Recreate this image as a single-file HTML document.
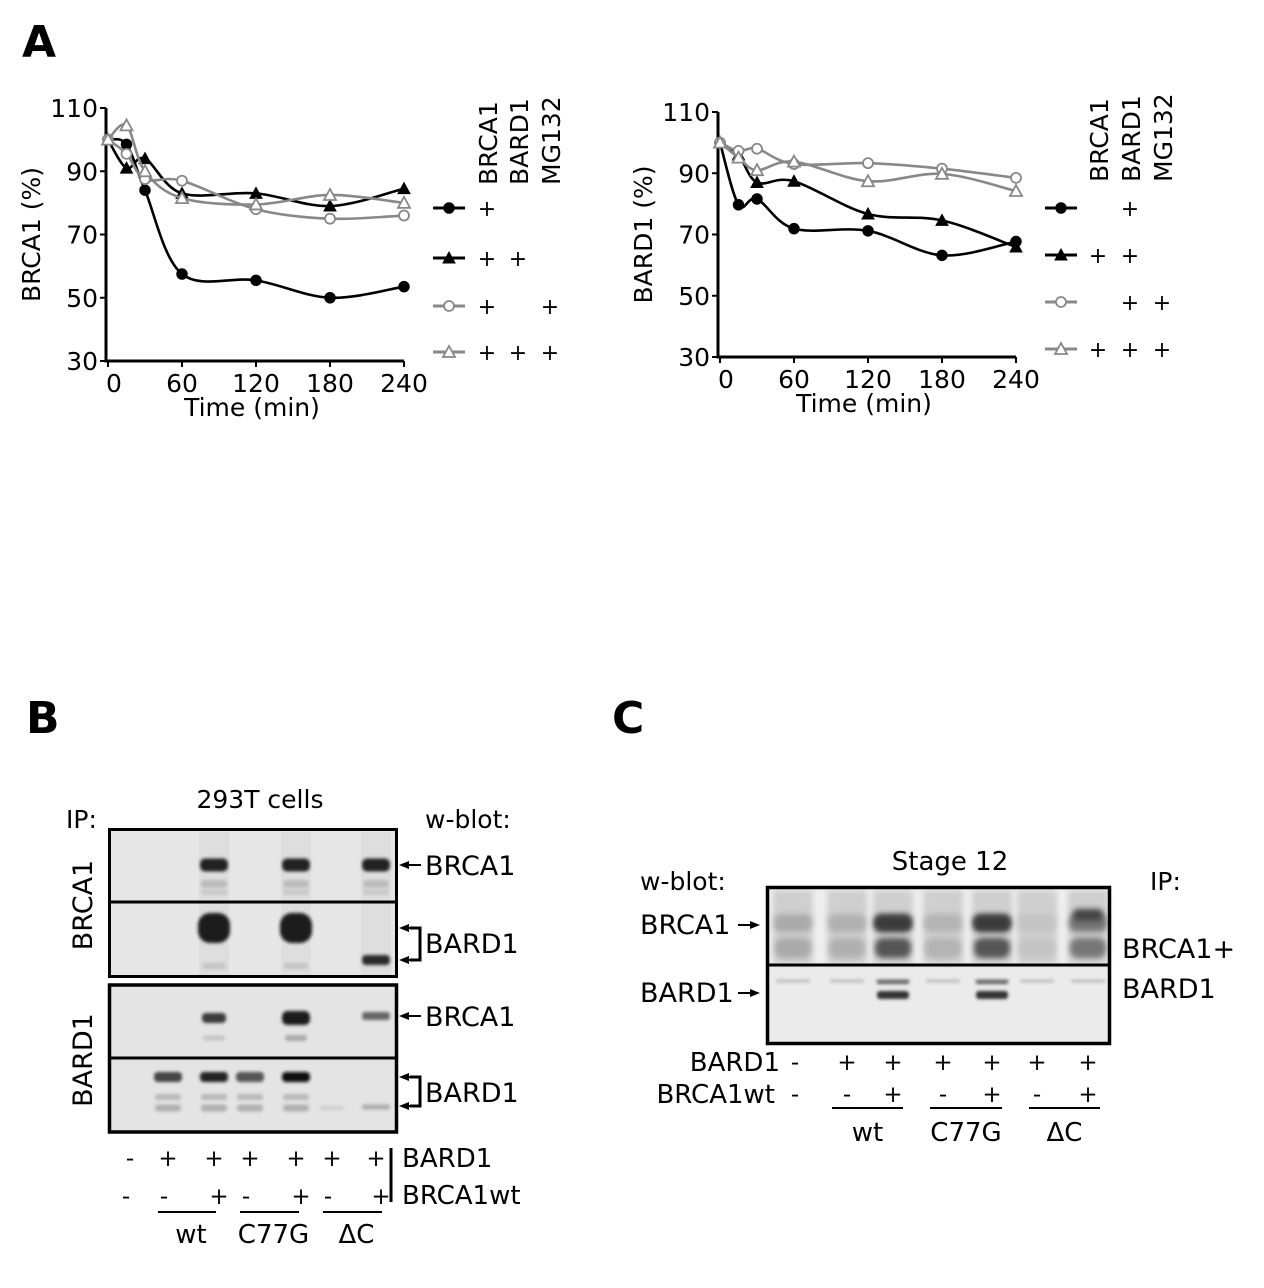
<!DOCTYPE html>
<html><head><meta charset="utf-8"><style>
html,body{margin:0;padding:0;background:#fff;}
svg{display:block;}
text{font-family:"DejaVu Sans","Liberation Sans",sans-serif;fill:#000;}
</style></head><body>
<svg id="fig" width="1264" height="1288" viewBox="0 0 1264 1288" xmlns="http://www.w3.org/2000/svg">
<defs>
<filter id="b1" x="-50%" y="-100%" width="200%" height="300%"><feGaussianBlur stdDeviation="1.6"/></filter>
<filter id="b2" x="-50%" y="-100%" width="200%" height="300%"><feGaussianBlur stdDeviation="3"/></filter>
</defs>
<text x="22" y="57" font-size="44" font-weight="bold" font-family="Liberation Sans">A</text>
<text x="26" y="733" font-size="44" font-weight="bold" font-family="Liberation Sans">B</text>
<text x="612" y="733" font-size="44" font-weight="bold" font-family="Liberation Sans">C</text>
<g id="chartL"></g>
<g id="chartR"></g>
<g id="blotB"></g>
<g id="blotC"></g>
</svg>
<script>
const times = [0, 15, 30, 60, 120, 180, 240];
const xTicks = [0, 60, 120, 180, 240];
const yTicks = [30, 50, 70, 90, 110];
const brcaCircle = [100, 98.5, 84, 57.5, 55.5, 50, 53.5];
const brcaTriangle = [100, 91, 94, 83, 83, 79, 84.5];
const brcaOpenCircle = [100, 95.5, 87.5, 87, 78, 75, 76];
const brcaOpenTriangle = [100, 104.5, 90, 81.5, 79.5, 82.5, 80];
const bardCircle = [100, 79.7, 81.6, 71.9, 71.2, 63.2, 67.7];
const bardTriangle = [100, 96, 87, 87.4, 76.7, 74.6, 65.9];
const bardOpenCircle = [100, 97.3, 98, 93, 93.3, 91.5, 88.5];
const bardOpenTriangle = [100, 95.1, 91, 93.8, 87.4, 89.8, 84.2];
const legendLeft = [["+","",""],["+","+",""],["+","","+"],["+","+","+"]];
const legendRight = [["","+",""],["+","+",""],["","+","+"],["+","+","+"]];

const NS = "http://www.w3.org/2000/svg";
function mk(tag, attrs, parent){const e=document.createElementNS(NS,tag);for(const k in attrs)e.setAttribute(k,attrs[k]);parent.appendChild(e);return e;}
function smooth(pts){
  let d="M"+pts[0][0]+","+pts[0][1];
  for(let i=0;i<pts.length-1;i++){
    const p0=pts[i-1]||pts[i],p1=pts[i],p2=pts[i+1],p3=pts[i+2]||p2;
    const c1=[p1[0]+(p2[0]-p0[0])/6,p1[1]+(p2[1]-p0[1])/6];
    const c2=[p2[0]-(p3[0]-p1[0])/6,p2[1]-(p3[1]-p1[1])/6];
    d+=" C"+c1[0]+","+c1[1]+" "+c2[0]+","+c2[1]+" "+p2[0]+","+p2[1];
  }
  return d;
}
function marker(g,type,x,y,col){
  let m;
  if(type==="circle"){m=mk("circle",{cx:x,cy:y,r:5,fill:col,stroke:col,"stroke-width":1.5},g);}
  else if(type==="ocircle"){m=mk("circle",{cx:x,cy:y,r:5,fill:"#fff",stroke:col,"stroke-width":1.8},g);}
  else if(type==="tri"){m=mk("polygon",{points:`${x},${y-6} ${x-6},${y+5} ${x+6},${y+5}`,fill:col,stroke:col},g);}
  else {m=mk("polygon",{points:`${x},${y-6} ${x-6},${y+5} ${x+6},${y+5}`,fill:"#fff",stroke:col,"stroke-width":1.8},g);}
  
  
}
function chart(gid,o){
  const g=document.getElementById(gid);
  const xs=t=>o.x0+t/240*(o.x1-o.x0);
  const ys=v=>o.y0+(110-v)/80*(o.y1-o.y0);
  const ax=mk("path",{d:`M${o.x0-2},${o.y0} V${o.y1} H${xs(240)}`,stroke:"#000","stroke-width":3,fill:"none"},g);
  
  
  yTicks.forEach(v=>{
    mk("line",{x1:o.x0-8,x2:o.x0-2,y1:ys(v),y2:ys(v),stroke:"#000","stroke-width":2},g);
    const t=mk("text",{x:o.x0-10,y:ys(v)+9,"font-size":25,"text-anchor":"end"},g);t.textContent=v;
    
    
  });
  xTicks.forEach(v=>{
    mk("line",{x1:xs(v),x2:xs(v),y1:o.y1,y2:o.y1+6,stroke:"#000","stroke-width":2},g);
    const t=mk("text",{x:xs(v)+(v===0?6:0),y:o.y1+31,"font-size":25,"text-anchor":"middle"},g);t.textContent=v;
    
    
  });
  const xt=mk("text",{x:(o.x0+xs(240))/2-4,y:o.y1+55,"font-size":25,"text-anchor":"middle"},g);xt.textContent="Time (min)";
  
  
  const yt=mk("text",{x:0,y:0,"font-size":25,"text-anchor":"middle",transform:`translate(${o.x0-68},${(o.y0+o.y1)/2}) rotate(-90)`},g);yt.textContent=o.ylab;
  
  
  o.series.forEach((s,si)=>{
    const pts=times.map((t,i)=>[xs(t),ys(s.v[i])]);
    const ln=mk("path",{d:smooth(pts),stroke:s.col,"stroke-width":2.6,fill:"none"},g);
    
    
    pts.forEach(p=>marker(g,s.m,p[0],p[1],s.col));
    const ly=o.legY[si];
    const ll=mk("line",{x1:o.legX,x2:o.legX+32,y1:ly,y2:ly,stroke:s.col,"stroke-width":3},g);
    
    
    marker(g,s.m,o.legX+16,ly,s.col);
    o.leg[si].forEach((p,ci)=>{if(p){const t=mk("text",{x:o.colX[ci],y:ly+8,"font-size":22,"text-anchor":"middle"},g);t.textContent=p;
      
      }});
  });
  ["BRCA1","BARD1","MG132"].forEach((h,ci)=>{
    const t=mk("text",{x:0,y:0,"font-size":25,transform:`translate(${o.colX[ci]+10},${o.headY}) rotate(-90)`},g);t.textContent=h;
    
    
  });
}
chart("chartL",{x0:108,x1:404,y0:108,y1:361,ylab:"BRCA1  (%)",legX:433,legY:[208,258,306,352],colX:[487,518,550],headY:185,leg:legendLeft,
 series:[{v:brcaCircle,m:"circle",col:"#000"},{v:brcaTriangle,m:"tri",col:"#000"},{v:brcaOpenCircle,m:"ocircle",col:"#888"},{v:brcaOpenTriangle,m:"otri",col:"#888"}]});
chart("chartR",{x0:720,x1:1016,y0:112,y1:357,ylab:"BARD1  (%)",legX:1045,legY:[208,255,302,349],colX:[1098,1130,1162],headY:182,leg:legendRight,
 series:[{v:bardCircle,m:"circle",col:"#000"},{v:bardTriangle,m:"tri",col:"#000"},{v:bardOpenCircle,m:"ocircle",col:"#888"},{v:bardOpenTriangle,m:"otri",col:"#888"}]});

function txt(g,x,y,s,str,anchor,name,extra){const t=mk("text",Object.assign({x:x,y:y,"font-size":s,"text-anchor":anchor||"start"},extra||{}),g);t.textContent=str;
  
  return t;}
function band(g,cx,cy,w,h,col,blur){const r=mk("rect",{x:cx-w/2,y:cy-h/2,width:w,height:h,rx:Math.min(w,h)/2.5,fill:col,filter:`url(#${blur||"b1"})`},g);
  
  }
function arrowL(g,x,y){mk("path",{d:`M${x},${y} l10,-4 v3 h12 v2 h-12 v3 z`,fill:"#000"},g);}

// Panel B
const gb=document.getElementById("blotB");
const lanesB=[130,168,214,250,296,332,376];
mk("rect",{x:110,y:830,width:285,height:145,fill:"#e6e6e6"},gb);
mk("rect",{x:110,y:985,width:285,height:146,fill:"#e4e4e4"},gb);
[214,296,376].forEach(x=>{mk("rect",{x:x-15,y:832,width:30,height:143,fill:"#dedede"},gb);});
[214,296,376].forEach(x=>{band(gb,x,865,28,13,"#222");band(gb,x,884,26,8,"#bbb");band(gb,x,892,26,6,"#c8c8c8");});
[214,296].forEach(x=>{band(gb,x,928,32,30,"#1a1a1a");band(gb,x,966,24,6,"#c4c4c4");});
band(gb,376,960,28,10,"#2a2a2a");
band(gb,214,1018,24,10,"#3a3a3a");band(gb,296,1018,28,14,"#1c1c1c");band(gb,376,1016,28,8,"#666");
band(gb,214,1038,22,5,"#c4c4c4");band(gb,296,1038,22,6,"#aaa");
[[168,"#444"],[214,"#222"],[250,"#555"],[296,"#111"]].forEach(([x,c])=>{band(gb,x,1077,28,10,c);band(gb,x,1097,26,6,"#b8b8b8");band(gb,x,1108,26,7,"#b0b0b0");});
band(gb,332,1108,24,4,"#ccc");band(gb,376,1107,28,5,"#aaa");
mk("rect",{x:109.5,y:829.5,width:287,height:147,fill:"none",stroke:"#000","stroke-width":3},gb);
mk("line",{x1:109,x2:397,y1:902,y2:902,stroke:"#000","stroke-width":3},gb);
mk("rect",{x:109.5,y:985,width:287,height:147,fill:"none",stroke:"#000","stroke-width":3.5},gb);
mk("line",{x1:109,x2:397,y1:1058,y2:1058,stroke:"#000","stroke-width":3},gb);
txt(gb,66,828,25,"IP:","start","ip-label");
txt(gb,260,808,25,"293T cells","middle","cell-line-label");
txt(gb,425,828,25,"w-blot:","start","w-blot-label");
txt(gb,0,0,27,"BRCA1","middle","ip-brca1-label",{transform:"translate(92,905) rotate(-90)"});
txt(gb,0,0,27,"BARD1","middle","ip-bard1-label",{transform:"translate(92,1060) rotate(-90)"});
[[865,"BRCA1"],[1016,"BRCA1"]].forEach(([y,s])=>{arrowL(gb,399,y);txt(gb,425,y+10,27,s,"start","band-label");});
[[928,960,943],[1077,1106,1092]].forEach(([a,b,m])=>{arrowL(gb,399,a);arrowL(gb,399,b);mk("path",{d:`M410,${a} H420 V${b} H410`,fill:"none",stroke:"#000","stroke-width":3},gb);txt(gb,425,m+10,27,"BARD1","start","band-label");});
const bPlus=["-","+","+","+","+","+","+"], bBrca=["-","-","+","-","+","-","+"];
lanesB.forEach((x,i)=>{txt(gb,x,1166,23,bPlus[i],"middle","bard1-lane-sign");txt(gb,x+(bBrca[i]==="+"?5:-4),1204,23,bBrca[i],"middle","brca1wt-lane-sign");});
mk("line",{x1:391,x2:391,y1:1148,y2:1202,stroke:"#000","stroke-width":3},gb);
txt(gb,402,1167,26,"BARD1","start","bard1-row-label");
txt(gb,402,1204,26,"BRCA1wt","start","brca1wt-row-label");
[[158,216,"wt"],[240,299,"C77G"],[323,382,"ΔC"]].forEach(([a,b,s])=>{mk("line",{x1:a,x2:b,y1:1212,y2:1212,stroke:"#000","stroke-width":2},gb);txt(gb,(a+b)/2+4,1243,26,s,"middle","mutant-label");});

// Panel C
const gc=document.getElementById("blotC");
const lanesC=[793,847,893,943,992,1037,1088];
mk("rect",{x:768,y:889,width:340,height:76,fill:"#efefef"},gc);
mk("rect",{x:768,y:965,width:340,height:78,fill:"#ebebeb"},gc);
[[793,"#aaa"],[847,"#b0b0b0"],[893,"#555"],[943,"#b4b4b4"],[992,"#555"],[1037,"#c4c4c4"],[1088,"#777"]].forEach(([x,c])=>{
  mk("rect",{x:x-20,y:890,width:40,height:74,fill:"#cfcfcf",filter:"url(#b2)"},gc);
  band(gc,x,923,38,18,c,"b2");band(gc,x,948,36,20,c,"b2");
});
[893,992].forEach(x=>{band(gc,x,923,36,14,"#3a3a3a","b2");});
band(gc,1088,915,30,12,"#444","b2");
lanesC.forEach(x=>band(gc,x,981,34,3,"#bbb"));
[893,992].forEach(x=>{band(gc,x,982,32,4,"#666");band(gc,x,995,32,8,"#333");});
mk("rect",{x:767.5,y:887.5,width:342,height:156,fill:"none",stroke:"#000","stroke-width":3.5},gc);
mk("line",{x1:767,x2:1110,y1:965,y2:965,stroke:"#000","stroke-width":3},gc);
txt(gc,950,870,26,"Stage 12","middle","stage-label");
txt(gc,640,890,25,"w-blot:","start","w-blot-label-c");
txt(gc,1150,890,25,"IP:","start","ip-label-c");
txt(gc,640,934,27,"BRCA1","start","brca1-band-label");
txt(gc,640,1002,27,"BARD1","start","bard1-band-label");
[925,993].forEach(y=>mk("path",{d:`M738,${y-1} h12 v-3 l10,4 l-10,4 v-3 h-12 z`,fill:"#000"},gc));
txt(gc,1122,958,27,"BRCA1+","start","ip-brca1-bard1-label");
txt(gc,1122,998,27,"BARD1","start","ip-bard1-label-c");
txt(gc,780,1071,26,"BARD1","end","bard1-row-label-c");
txt(gc,775,1103,26,"BRCA1wt","end","brca1wt-row-label-c");
const cBrca=["-","-","+","-","+","-","+"];
lanesC.forEach((x,i)=>{txt(gc,x+(i===0?2:0),1070,23,bPlus[i],"middle","bard1-lane-sign-c");txt(gc,x+(i===0?2:0),1102,23,cBrca[i],"middle","brca1wt-lane-sign-c");});
[[832,903,"wt"],[930,1002,"C77G"],[1029,1100,"ΔC"]].forEach(([a,b,s])=>{mk("line",{x1:a,x2:b,y1:1108,y2:1108,stroke:"#000","stroke-width":2},gc);txt(gc,(a+b)/2,1141,26,s,"middle","mutant-label-c");});
</script>
</body></html>
